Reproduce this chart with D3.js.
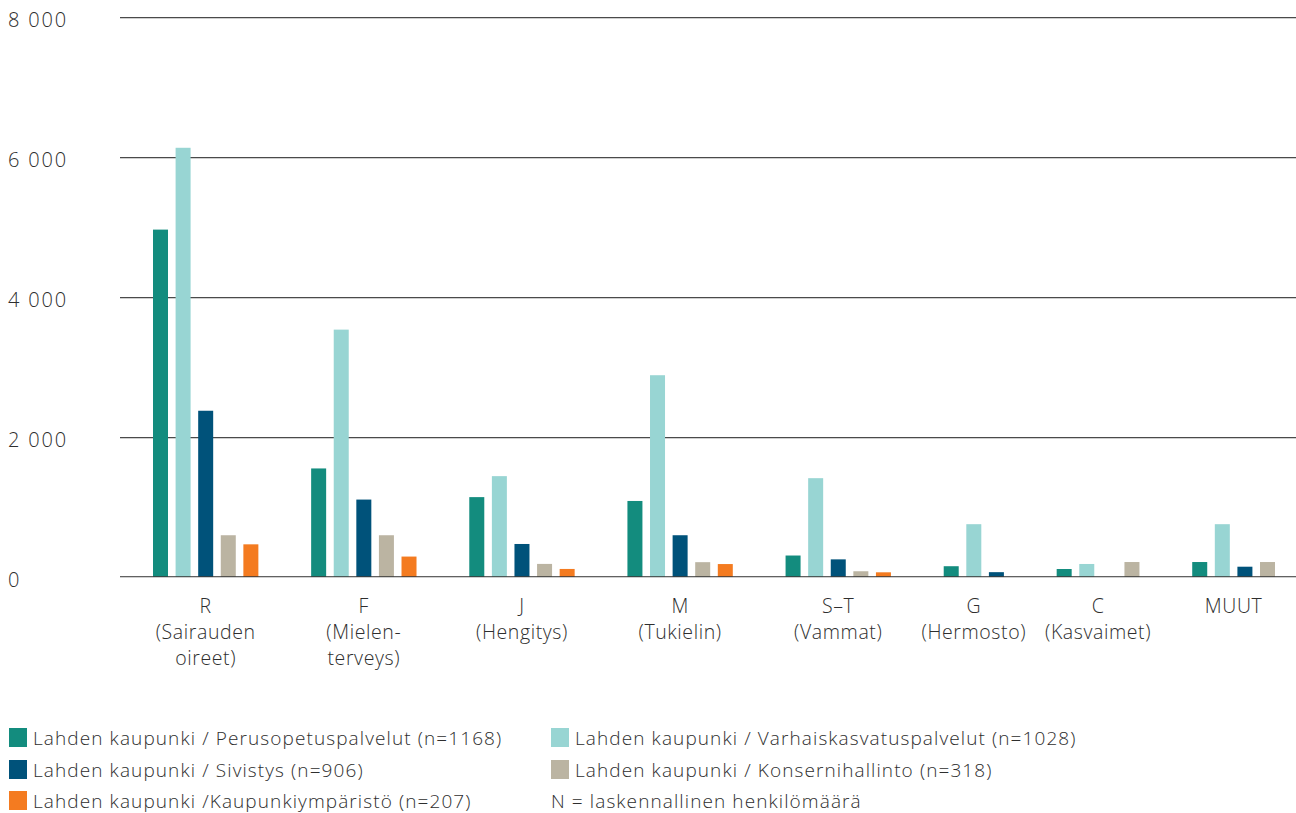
<!DOCTYPE html>
<html>
<head>
<meta charset="utf-8">
<script src="https://cdn.jsdelivr.net/npm/d3@7"></script>
<style>
  html, body { margin: 0; padding: 0; background: #fff; }
  svg { display: block; font-family: "Open Sans", Lato, sans-serif; font-weight: 400; }
</style>
</head>
<body>
<svg id="chart" width="1296" height="813"></svg>
<script>
// ---- data ----
const categories = ["R", "F", "J", "M", "S–T", "G", "C", "MUUT"];
const categoryLabels = [
  ["R", "(Sairauden", "oireet)"],
  ["F", "(Mielen-", "terveys)"],
  ["J", "(Hengitys)"],
  ["M", "(Tukielin)"],
  ["S–T", "(Vammat)"],
  ["G", "(Hermosto)"],
  ["C", "(Kasvaimet)"],
  ["MUUT"]
];
const seriesNames = [
  "Lahden kaupunki / Perusopetuspalvelut (n=1168)",
  "Lahden kaupunki / Varhaiskasvatuspalvelut (n=1028)",
  "Lahden kaupunki / Sivistys (n=906)",
  "Lahden kaupunki / Konsernihallinto (n=318)",
  "Lahden kaupunki /Kaupunkiympäristö (n=207)"
];
const perusopetus   = [4960, 1545, 1135, 1080, 300, 147, 107, 207];
const varhaiskasvatus = [6130, 3530, 1435, 2878, 1406, 748, 179, 748];
const sivistys      = [2370, 1100, 465, 590, 245, 62, 0, 140];
const konserni      = [590, 590, 180, 205, 75, 0, 207, 207];
const kaupunkiymp   = [460, 285, 108, 178, 60, 0, 0, 0];
const seriesValues = [perusopetus, varhaiskasvatus, sivistys, konserni, kaupunkiymp];
const yTicks = [0, 2000, 4000, 6000, 8000];
const legendNote = "N = laskennallinen henkilömäärä";
const colors = ["#138c7e", "#98d5d3", "#00527a", "#bbb4a2", "#f47b20"];

// ---- layout ----
const svg = d3.select("#chart");
const y = d3.scaleLinear().domain([0, 8000]).range([576.5, 17]);

// slots: each category holds series up to its last non-zero one, groups separated by 2 empty slots
const slots = [];
const groupSlots = [];
categories.forEach((c, gi) => {
  let last = -1;
  seriesValues.forEach((vals, si) => { if (vals[gi] > 0) last = si; });
  const keys = [];
  for (let si = 0; si <= last; si++) { slots.push(c + "|" + si); keys.push(c + "|" + si); }
  groupSlots.push(keys);
  if (gi < categories.length - 1) { slots.push(c + "|gapA"); slots.push(c + "|gapB"); }
});
const x = d3.scaleBand().domain(slots).range([153, 1275]).paddingInner(0.336).paddingOuter(0);

// gridlines
const grid = svg.append("g");
yTicks.forEach(t => {
  if (t === 0) return;
  grid.append("line").attr("x1", 120).attr("x2", 1296)
    .attr("y1", Math.round(y(t)) + 1.5).attr("y2", Math.round(y(t)) + 1.5)
    .attr("stroke", "#cfcfcf").attr("stroke-width", 1);
  grid.append("line").attr("x1", 120).attr("x2", 1296)
    .attr("y1", Math.round(y(t)) + 0.5).attr("y2", Math.round(y(t)) + 0.5)
    .attr("stroke", "#4a4a4a").attr("stroke-width", 1.2);
});

// y labels
svg.append("g").selectAll("text").data(yTicks).join("text")
  .attr("x", 8).attr("y", d => y(d) + 10)
  .attr("font-size", 20).attr("font-weight", 300).attr("letter-spacing", 1.8).attr("fill", "#2e2e2e")
  .text(d => d3.format(",")(d).replace(/,/g, " "));

// bars
const bars = [];
categories.forEach((c, gi) => {
  seriesValues.forEach((vals, si) => {
    const key = c + "|" + si;
    if (vals[gi] > 0 && x(key) !== undefined) bars.push({ key, v: vals[gi], si });
  });
});
svg.append("g").selectAll("rect").data(bars).join("rect")
  .attr("x", d => x(d.key)).attr("width", x.bandwidth())
  .attr("y", d => y(d.v)).attr("height", d => y(0) - y(d.v) + 1.5)
  .attr("fill", d => colors[d.si]);

// zero line on top
svg.append("line").attr("x1", 120).attr("x2", 1296)
  .attr("y1", y(0) + 1).attr("y2", y(0) + 1)
  .attr("stroke", "#cfcfcf").attr("stroke-width", 1);
svg.append("line").attr("x1", 120).attr("x2", 1296)
  .attr("y1", y(0)).attr("y2", y(0))
  .attr("stroke", "#3a3a3a").attr("stroke-opacity", 0.8).attr("stroke-width", 1.2);

// x labels
const xl = svg.append("g");
categories.forEach((c, gi) => {
  const keys = groupSlots[gi];
  const cx = (x(keys[0]) + x(keys[keys.length - 1]) + x.bandwidth()) / 2;
  const t = xl.append("text").attr("text-anchor", "middle")
    .attr("font-size", 19.5).attr("font-weight", 300).attr("letter-spacing", 0.6).attr("fill", "#2e2e2e");
  categoryLabels[gi].forEach((line, li) => {
    t.append("tspan").attr("x", cx).attr("y", 613 + li * 26).text(line);
  });
});

// legend
const legendPos = [[9, 728], [551, 728], [9, 760], [551, 760], [9, 791]];
const lg = svg.append("g");
seriesNames.forEach((name, i) => {
  const [lx, ly] = legendPos[i];
  lg.append("rect").attr("x", lx).attr("y", ly).attr("width", 18).attr("height", 19).attr("fill", colors[i]);
  lg.append("text").attr("x", lx + 24).attr("y", ly + 17).attr("font-size", 19).attr("font-weight", 300)
    .attr("letter-spacing", 1.1).attr("fill", "#2e2e2e").text(name);
});
lg.append("text").attr("x", 551).attr("y", 791 + 17).attr("font-size", 19).attr("font-weight", 300)
  .attr("letter-spacing", 1.1).attr("fill", "#2e2e2e").text(legendNote);
</script>
</body>
</html>
